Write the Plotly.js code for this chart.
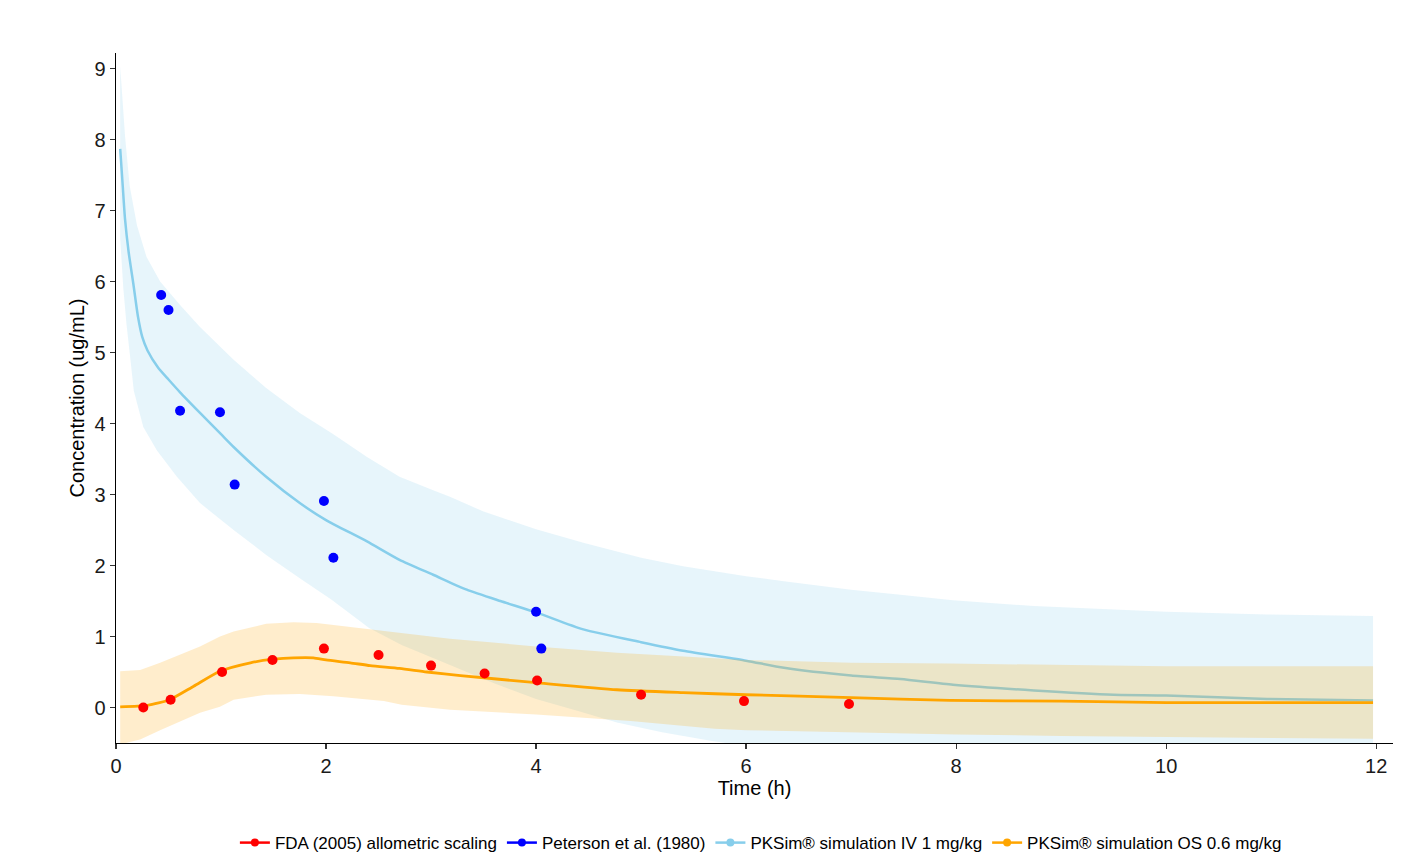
<!DOCTYPE html>
<html>
<head>
<meta charset="utf-8">
<script src="https://cdn.plot.ly/plotly-3.0.1.min.js"></script>
<style>html,body{margin:0;padding:0;background:#fff;}#chart{width:1424px;height:855px;}</style>
</head>
<body>
<div id="chart"></div>
<script>
// Observed data
const fdaTime = [0.26, 0.52, 1.01, 1.49, 1.98, 2.5, 3.0, 3.51, 4.01, 5.0, 5.98, 6.98];
const fdaConc = [0.0, 0.11, 0.50, 0.67, 0.83, 0.74, 0.59, 0.48, 0.38, 0.18, 0.09, 0.05];

const petTime = [0.43, 0.50, 0.61, 0.99, 1.13, 1.98, 2.07, 4.0, 4.05];
const petConc = [5.81, 5.60, 4.18, 4.16, 3.14, 2.91, 2.11, 1.35, 0.83];

// PKSim IV 1 mg/kg simulation
const ivTime = [0.04, 0.064, 0.086, 0.12, 0.165, 0.21, 0.25, 0.30, 0.40, 0.50, 0.61, 0.80, 1.0, 1.12, 1.43, 1.75, 2.0, 2.39, 2.70, 3.02, 3.34, 3.66, 4.0, 4.45, 5.0, 5.4, 6.0, 6.36, 7.0, 7.47, 7.97, 8.74, 9.5, 10.0, 10.96, 11.97];
const ivConc = [7.87, 7.35, 6.88, 6.42, 5.97, 5.50, 5.22, 5.03, 4.79, 4.62, 4.44, 4.15, 3.85, 3.67, 3.25, 2.88, 2.64, 2.34, 2.08, 1.87, 1.66, 1.50, 1.34, 1.10, 0.92, 0.80, 0.66, 0.56, 0.45, 0.40, 0.32, 0.24, 0.18, 0.17, 0.12, 0.10];

const ivUpTime = [0.04, 0.054, 0.086, 0.13, 0.2, 0.29, 0.42, 0.61, 0.8, 1.12, 1.43, 1.75, 2.07, 2.39, 2.70, 3.02, 3.18, 3.50, 4.0, 4.45, 5.0, 5.4, 6.0, 6.36, 7.0, 7.47, 7.97, 8.74, 9.5, 10.0, 10.96, 11.97];
const ivUp = [9.03, 8.75, 8.05, 7.35, 6.79, 6.35, 6.0, 5.67, 5.36, 4.9, 4.5, 4.15, 3.85, 3.53, 3.25, 3.06, 2.97, 2.76, 2.51, 2.32, 2.11, 1.99, 1.85, 1.78, 1.66, 1.59, 1.51, 1.43, 1.38, 1.35, 1.31, 1.29];

const ivLoTime = [0.04, 0.07, 0.10, 0.13, 0.17, 0.26, 0.39, 0.58, 0.80, 1.12, 1.43, 1.75, 2.05, 2.41, 2.72, 3.2, 3.6, 4.0, 4.4, 4.77, 5.2, 5.66, 6.2, 7.0, 8.0, 10.0, 11.97];
const ivLo = [6.6, 5.9, 5.4, 5.0, 4.46, 3.95, 3.62, 3.25, 2.88, 2.50, 2.15, 1.82, 1.52, 1.12, 0.88, 0.59, 0.34, 0.12, -0.05, -0.21, -0.35, -0.47, -0.58, -0.68, -0.76, -0.86, -0.92];

// PKSim OS 0.6 mg/kg simulation
const osTime = [0.04, 0.30, 0.51, 0.74, 0.99, 1.28, 1.50, 1.69, 1.88, 2.0, 2.23, 2.42, 2.70, 2.96, 3.28, 4.0, 4.77, 5.4, 6.0, 7.0, 7.94, 9.0, 10.0, 11.97];
const osConc = [0.01, 0.03, 0.11, 0.30, 0.51, 0.63, 0.68, 0.70, 0.70, 0.67, 0.63, 0.59, 0.55, 0.50, 0.45, 0.35, 0.25, 0.21, 0.18, 0.14, 0.10, 0.09, 0.07, 0.07];

const osUpTime = [0.04, 0.23, 0.42, 0.8, 0.99, 1.12, 1.43, 1.69, 1.91, 2.39, 2.8, 3.18, 4.0, 4.77, 6.0, 7.0, 7.94, 9.0, 10.0, 11.97];
const osUp = [0.51, 0.53, 0.63, 0.86, 1.0, 1.07, 1.18, 1.20, 1.19, 1.11, 1.04, 0.97, 0.86, 0.77, 0.67, 0.63, 0.62, 0.60, 0.58, 0.58];

const osLoTime = [0.04, 0.23, 0.42, 0.8, 0.99, 1.12, 1.43, 1.75, 2.07, 2.55, 2.72, 3.18, 4.0, 4.9, 5.7, 6.0, 7.0, 8.0, 9.0, 10.0, 11.0, 11.97];
const osLo = [-0.52, -0.45, -0.32, -0.075, 0.01, 0.11, 0.18, 0.19, 0.16, 0.09, 0.04, -0.03, -0.10, -0.19, -0.30, -0.32, -0.35, -0.38, -0.40, -0.42, -0.43, -0.44];

const xTicks = [0, 2, 4, 6, 8, 10, 12];
const yTicks = [0, 1, 2, 3, 4, 5, 6, 7, 8, 9];

const names = ['FDA (2005) allometric scaling', 'Peterson et al. (1980)', 'PKSim\u00AE simulation IV 1 mg/kg', 'PKSim\u00AE simulation OS 0.6 mg/kg'];

function band(tu, u, tl, l) {
  return { x: tu.concat(tl.slice().reverse()), y: u.concat(l.slice().reverse()) };
}
const ivBand = band(ivUpTime, ivUp, ivLoTime, ivLo);
const osBand = band(osUpTime, osUp, osLoTime, osLo);

const FONT = 'Liberation Sans, Arial, sans-serif';

const traces = [
  { x: ivBand.x, y: ivBand.y, type: 'scatter', mode: 'lines', fill: 'toself', fillcolor: 'rgba(135,206,235,0.2)', line: { width: 0 }, hoverinfo: 'skip', showlegend: false },
  { x: ivTime, y: ivConc, type: 'scatter', mode: 'lines', line: { color: '#87CEEB', width: 2.5, shape: 'spline', smoothing: 0.6 }, showlegend: false },
  { x: osBand.x, y: osBand.y, type: 'scatter', mode: 'lines', fill: 'toself', fillcolor: 'rgba(255,165,0,0.2)', line: { width: 0 }, hoverinfo: 'skip', showlegend: false },
  { x: osTime, y: osConc, type: 'scatter', mode: 'lines', line: { color: '#FFA500', width: 2.8, shape: 'spline', smoothing: 0.6 }, showlegend: false },
  { x: fdaTime, y: fdaConc, type: 'scatter', mode: 'markers', marker: { color: '#FF0000', size: 10 }, showlegend: false },
  { x: petTime, y: petConc, type: 'scatter', mode: 'markers', marker: { color: '#0000FF', size: 10 }, showlegend: false },
  // legend keys
  { x: [null], y: [null], type: 'scatter', mode: 'lines+markers', name: names[0], line: { color: '#FF0000', width: 2.5 }, marker: { color: '#FF0000', size: 8 } },
  { x: [null], y: [null], type: 'scatter', mode: 'lines+markers', name: names[1], line: { color: '#0000FF', width: 2.5 }, marker: { color: '#0000FF', size: 8 } },
  { x: [null], y: [null], type: 'scatter', mode: 'lines+markers', name: names[2], line: { color: '#87CEEB', width: 2.5 }, marker: { color: '#87CEEB', size: 8 } },
  { x: [null], y: [null], type: 'scatter', mode: 'lines+markers', name: names[3], line: { color: '#FFA500', width: 2.5 }, marker: { color: '#FFA500', size: 8 } }
];

const layout = {
  width: 1424, height: 855,
  margin: { l: 116, r: 31, t: 53, b: 112, autoexpand: false },
  paper_bgcolor: '#fff', plot_bgcolor: '#fff',
  font: { family: FONT, color: '#1a1a1a', size: 20 },
  xaxis: {
    range: [0, 12.16], tickvals: xTicks, ticktext: xTicks.map(String),
    showgrid: false, zeroline: false, showline: true, linecolor: '#000', linewidth: 1.3,
    ticks: 'outside', ticklen: 5, tickcolor: '#333', tickwidth: 1.2,
    tickfont: { family: FONT, size: 20, color: '#1a1a1a' },
    automargin: false,
    title: { text: 'Time (h)', font: { family: FONT, size: 20, color: '#000' }, standoff: 2 }
  },
  yaxis: {
    range: [-0.5, 9.22], tickvals: yTicks, ticktext: yTicks.map(String),
    showgrid: false, zeroline: false, showline: true, linecolor: '#000', linewidth: 1.3,
    ticks: 'outside', ticklen: 5, tickcolor: '#333', tickwidth: 1.2,
    tickfont: { family: FONT, size: 20, color: '#1a1a1a' },
    automargin: false,
    title: { text: 'Concentration (ug/mL)', font: { family: FONT, size: 20, color: '#000' }, standoff: 4 }
  },
  showlegend: true,
  legend: {
    orientation: 'h', x: 0.505, xanchor: 'center', y: -0.145, yanchor: 'middle',
    font: { family: FONT, size: 17, color: '#000' }, bgcolor: 'rgba(0,0,0,0)'
  }
};

Plotly.newPlot('chart', traces, layout, { displayModeBar: false, staticPlot: true });
</script>
</body>
</html>
